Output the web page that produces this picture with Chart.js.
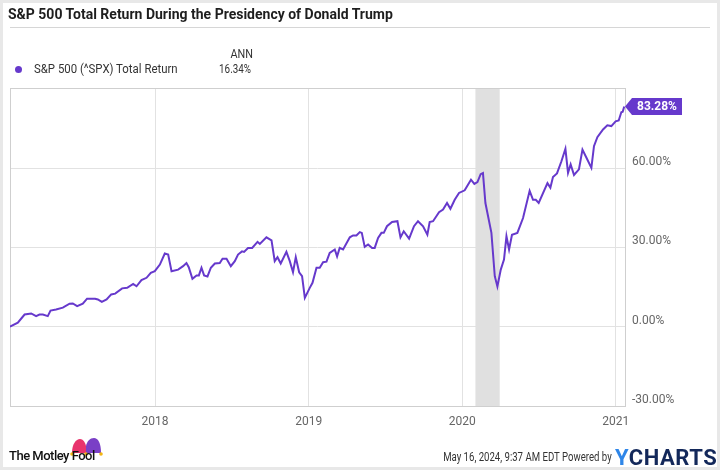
<!DOCTYPE html>
<html><head><meta charset="utf-8">
<script src="https://cdn.jsdelivr.net/npm/chart.js@4"></script>
<style>
html,body{margin:0;padding:0;}
body{width:720px;height:470px;position:relative;overflow:hidden;background:#fff;font-family:Roboto,"Noto Sans",sans-serif;color:#222;}
#frame{position:absolute;left:0;top:0;width:714px;height:464px;border:3px solid #e8e8e8;pointer-events:none;z-index:5;}
#chart{position:absolute;left:0;top:0;}
.abs{position:absolute;white-space:nowrap;}
#title{left:8px;top:6px;font-size:14px;font-weight:700;color:#1e1e1e;}
#sep{left:10px;top:27px;width:700px;height:1px;background:#d6d6d6;}
#dot{left:15px;top:66px;width:7px;height:7px;border-radius:50%;background:#6639cc;}
#lname{left:34px;top:62px;font-size:12px;color:#333;transform:scaleX(0.95);transform-origin:left center;}
#annh{left:193px;width:60px;text-align:right;top:47px;font-size:12px;color:#333;transform:scaleX(0.9);transform-origin:right center;}
#annv{left:191px;width:60px;text-align:right;top:62px;font-size:12px;color:#333;transform:scaleX(0.82);transform-origin:right center;}
#fool{left:9px;top:448px;font-size:13px;font-weight:500;letter-spacing:-0.5px;color:#111;}
#hat{left:70px;top:436px;}
#stamp{right:108px;top:450px;font-size:12px;color:#333;transform:scaleX(0.8);transform-origin:right center;}
#ych{left:615px;top:445px;font-size:22px;font-weight:700;letter-spacing:0.5px;color:#13285a;}
#ych span{color:#2f86e8;}
</style></head>
<body>
<div id="frame"></div>
<canvas id="chart" width="720" height="470"></canvas>
<div class="abs" id="title">S&amp;P 500 Total Return During the Presidency of Donald Trump</div>
<div class="abs" id="sep"></div>
<div class="abs" id="dot"></div>
<div class="abs" id="lname">S&amp;P 500 (^SPX) Total Return</div>
<div class="abs" id="annh">ANN</div>
<div class="abs" id="annv">16.34%</div>
<svg class="abs" id="hat" width="34" height="20" viewBox="0 0 34 20">
  <path d="M2 17 C2 8 6 3 10 3 C13 3 15 6 16 10 L16 17 Z" fill="#e8336d"/>
  <path d="M16 10 C17 5 20 2 24 2 C28 2 31 7 31 17 L16 17 Z" fill="#7a3fc6"/>
  <circle cx="2" cy="18" r="1.8" fill="#f3b512"/>
  <circle cx="16" cy="18" r="1.8" fill="#f3b512"/>
  <circle cx="31" cy="18" r="1.8" fill="#f3b512"/>
</svg>
<div class="abs" id="fool">The Motley Fool</div>
<div class="abs" id="stamp">May 16, 2024, 9:37 AM EDT Powered by</div>
<div class="abs" id="ych"><span>Y</span>CHARTS</div>
<script>
const seriesName = 'S&P 500 (^SPX) Total Return';
const years = [2017.055,2017.106,2017.150,2017.193,2017.225,2017.247,2017.269,2017.301,2017.319,2017.355,
2017.399,2017.443,2017.464,2017.492,2017.529,2017.557,2017.609,2017.627,2017.653,2017.684,
2017.714,2017.740,2017.785,2017.818,2017.857,2017.879,2017.911,2017.944,2017.972,2017.998,
2018.031,2018.063,2018.085,2018.107,2018.150,2018.182,2018.204,2018.219,2018.243,2018.270,
2018.285,2018.302,2018.319,2018.341,2018.363,2018.389,2018.421,2018.439,2018.465,2018.493,
2018.519,2018.540,2018.566,2018.579,2018.605,2018.632,2018.667,2018.682,2018.725,2018.758,
2018.779,2018.797,2018.818,2018.855,2018.877,2018.898,2018.916,2018.938,2018.957,2018.975,
2019.007,2019.025,2019.051,2019.072,2019.094,2019.116,2019.137,2019.170,2019.185,2019.202,
2019.224,2019.268,2019.289,2019.311,2019.333,2019.346,2019.365,2019.387,2019.413,2019.430,
2019.452,2019.474,2019.489,2019.510,2019.543,2019.578,2019.598,2019.619,2019.654,2019.686,
2019.712,2019.745,2019.773,2019.788,2019.810,2019.849,2019.875,2019.901,2019.923,2019.951,
2019.979,2020.016,2020.057,2020.079,2020.099,2020.120,2020.135,2020.151,2020.190,2020.212,
2020.229,2020.251,2020.272,2020.288,2020.305,2020.324,2020.359,2020.396,2020.439,2020.461,
2020.479,2020.498,2020.555,2020.574,2020.591,2020.617,2020.646,2020.672,2020.689,2020.706,
2020.728,2020.760,2020.783,2020.809,2020.841,2020.858,2020.880,2020.917,2020.945,2020.971,
2020.999,2021.019,2021.036,2021.045,2021.055];
const totalReturn = [0.0,1.5,4.6,5.0,4.0,4.6,4.6,4.0,6.1,6.5,
7.2,8.7,8.8,7.8,8.7,10.6,10.6,10.3,9.4,10.3,
12.2,12.5,14.5,14.7,16.2,15.3,17.6,18.5,20.4,21.0,
23.5,27.7,27.3,21.0,21.6,22.9,24.1,22.5,18.1,19.4,
19.4,22.3,19.4,19.0,22.3,23.9,24.1,25.7,25.7,22.9,
24.8,27.3,28.5,28.3,29.8,29.8,32.1,31.3,33.8,32.7,
24.8,26.3,23.9,28.3,24.8,20.6,26.3,20.6,19.1,10.9,
14.7,16.6,22.3,22.3,24.4,24.6,27.9,29.2,26.6,29.8,
29.2,33.8,34.5,34.5,35.8,35.5,30.2,31.1,29.8,29.8,
33.6,35.5,35.5,38.0,39.6,39.9,33.8,36.1,33.3,38.0,
39.9,38.0,34.8,39.6,39.9,43.3,44.3,46.8,44.6,48.0,
50.6,51.6,55.6,54.0,54.7,57.7,58.1,46.8,35.5,19.1,
15.2,21.6,25.4,34.2,29.2,34.8,35.5,41.1,51.4,48.0,
48.0,46.8,54.3,52.6,56.6,58.0,62.6,67.3,58.2,61.4,
57.4,59.5,67.0,63.9,60.1,68.3,71.7,74.6,76.2,75.9,
77.7,78.0,81.1,81.3,83.28];
const xTicks = [2018, 2019, 2020, 2021];
const yTicks = [-30, 0, 30, 60];
const recession = [2020.086, 2020.244];
const lastLabel = '83.28%';

const LINE = '#6639cc';
const GRID = '#e2e2e2';

const framePlugin = {
  id: 'framePlugin',
  beforeDatasetsDraw(chart) {
    const {ctx, chartArea: a, scales: {x}} = chart;
    ctx.save();
    const x0 = x.getPixelForValue(recession[0]);
    const x1 = x.getPixelForValue(recession[1]);
    ctx.fillStyle = '#e0e0e0';
    ctx.fillRect(x0, a.top, x1 - x0, a.bottom - a.top);
    ctx.strokeStyle = '#cfcfcf';
    ctx.lineWidth = 1;
    ctx.strokeRect(Math.round(a.left) + 0.5, Math.round(a.top) + 0.5, Math.round(a.right - a.left), Math.round(a.bottom - a.top));
    ctx.restore();
  },
  afterDatasetsDraw(chart) {
    const {ctx, chartArea: a} = chart;
    const meta = chart.getDatasetMeta(0);
    const pt = meta.data[meta.data.length - 1];
    const y = pt.y;
    const tip = a.right;
    ctx.save();
    ctx.fillStyle = LINE;
    ctx.beginPath();
    ctx.moveTo(tip, y);
    ctx.lineTo(tip + 7, y - 8.5);
    ctx.lineTo(682, y - 8.5);
    ctx.lineTo(682, y + 8.5);
    ctx.lineTo(tip + 7, y + 8.5);
    ctx.closePath();
    ctx.fill();
    ctx.fillStyle = '#fff';
    ctx.font = 'bold 12px Roboto';
    ctx.textAlign = 'center';
    ctx.textBaseline = 'middle';
    ctx.fillText(lastLabel, 657, y + 0.5);
    ctx.restore();
  }
};

new Chart(document.getElementById('chart'), {
  type: 'line',
  data: {
    datasets: [{
      label: seriesName,
      data: years.map((v, i) => ({x: v, y: totalReturn[i]})),
      borderColor: LINE,
      borderWidth: 2,
      pointRadius: 0,
      tension: 0,
      fill: false
    }]
  },
  options: {
    responsive: false,
    animation: false,
    layout: {padding: {left: 10, top: 88, right: 0, bottom: 0}},
    plugins: {legend: {display: false}, tooltip: {enabled: false}},
    scales: {
      x: {
        type: 'linear', min: 2017.055, max: 2021.06,
        afterBuildTicks: s => { s.ticks = xTicks.map(v => ({value: v})); },
        afterFit: s => { s.height = 64; },
        grid: {color: GRID, drawTicks: false},
        border: {display: false},
        ticks: {padding: 9, color: '#666', font: {family: 'Roboto', size: 12}, maxRotation: 0, autoSkip: false, callback: v => String(v)}
      },
      y: {
        position: 'right', min: -30, max: 90.3,
        afterBuildTicks: s => { s.ticks = yTicks.map(v => ({value: v})); },
        afterFit: s => { s.width = 95; },
        grid: {color: GRID, drawTicks: false},
        border: {display: false},
        ticks: {padding: 7, labelOffset: -6, color: '#666', font: {family: 'Roboto', size: 12}, callback: v => Number(v).toFixed(2) + '%'}
      }
    }
  },
  plugins: [framePlugin]
});
</script>
</body></html>
